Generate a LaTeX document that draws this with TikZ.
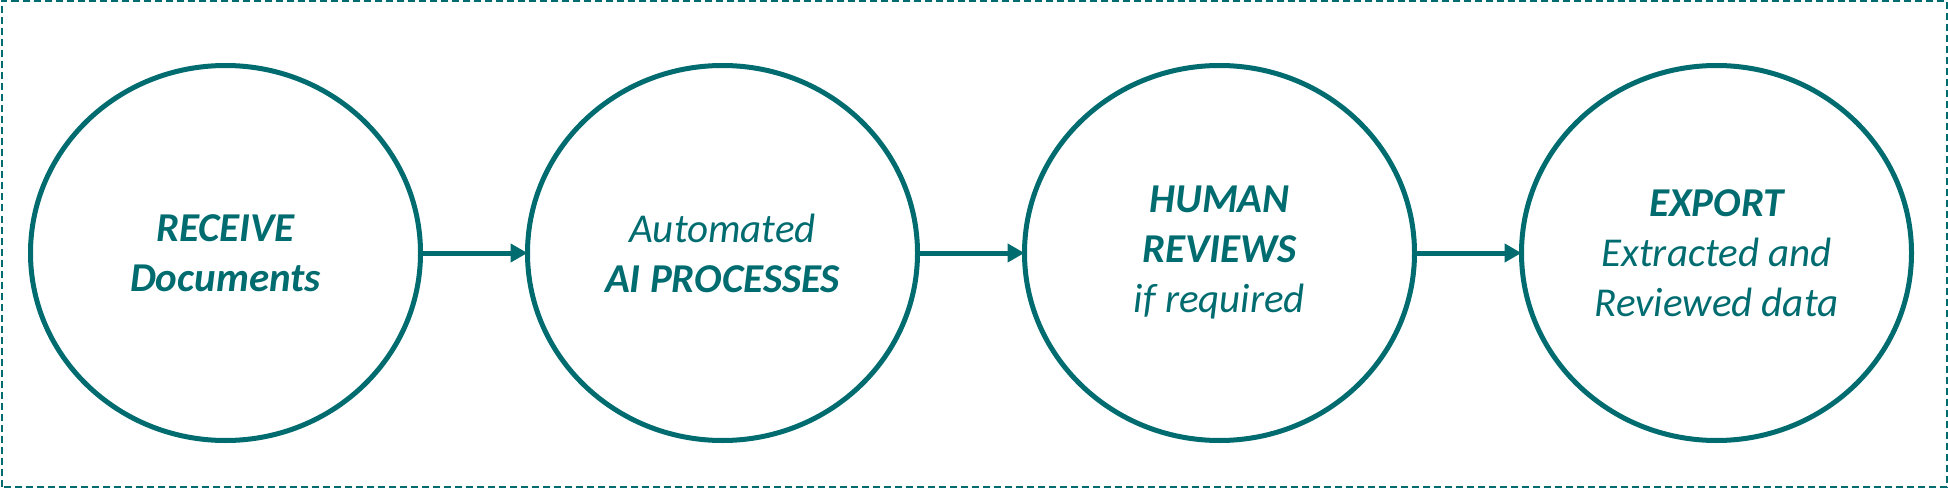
\documentclass[tikz,border=0pt]{standalone}
\usepackage{fontspec}
\setmainfont{Carlito}
\usepackage{tikz}
\usetikzlibrary{shapes.geometric}
\usetikzlibrary{arrows.meta}
\usetikzlibrary{positioning}

\definecolor{flowteal}{RGB}{0,108,112}

\tikzset{
  stage/.style={ellipse, draw=flowteal, line width=2.5pt, outer sep=0pt,
    minimum width=195pt, minimum height=187.5pt, inner sep=0pt,
    align=center, text=flowteal,
    font=\fontsize{20.5}{25}\selectfont\itshape},
  flow/.style={draw=flowteal, line width=2.5pt,
    -{Triangle[length=8.5pt,width=9pt]}}
}

\begin{document}
\begin{tikzpicture}[node distance=53.5pt]
  \useasboundingbox (0,0) rectangle (974pt,244pt);
  % dashed frame
  \draw[flowteal, line width=1pt, dash pattern=on 3.5pt off 2pt]
    (0.75pt,0.75pt) rectangle (973.25pt,243.25pt);

  % stages
  \node[stage] (receive) at (112.75pt,117.5pt) {\textbf{RECEIVE}\\\textbf{Documents}};
  \node[stage, right=of receive] (process) {Automated\\\textbf{AI PROCESSES}};
  \node[stage, right=of process] (review) {\textbf{HUMAN}\\\textbf{REVIEWS}\\if required};
  \node[stage, right=of review] (export) {\textbf{EXPORT}\\Extracted and\\Reviewed data};

  % arrows
  \draw[flow] (receive) -- (process);
  \draw[flow] (process) -- (review);
  \draw[flow] (review) -- (export);
\end{tikzpicture}
\end{document}
